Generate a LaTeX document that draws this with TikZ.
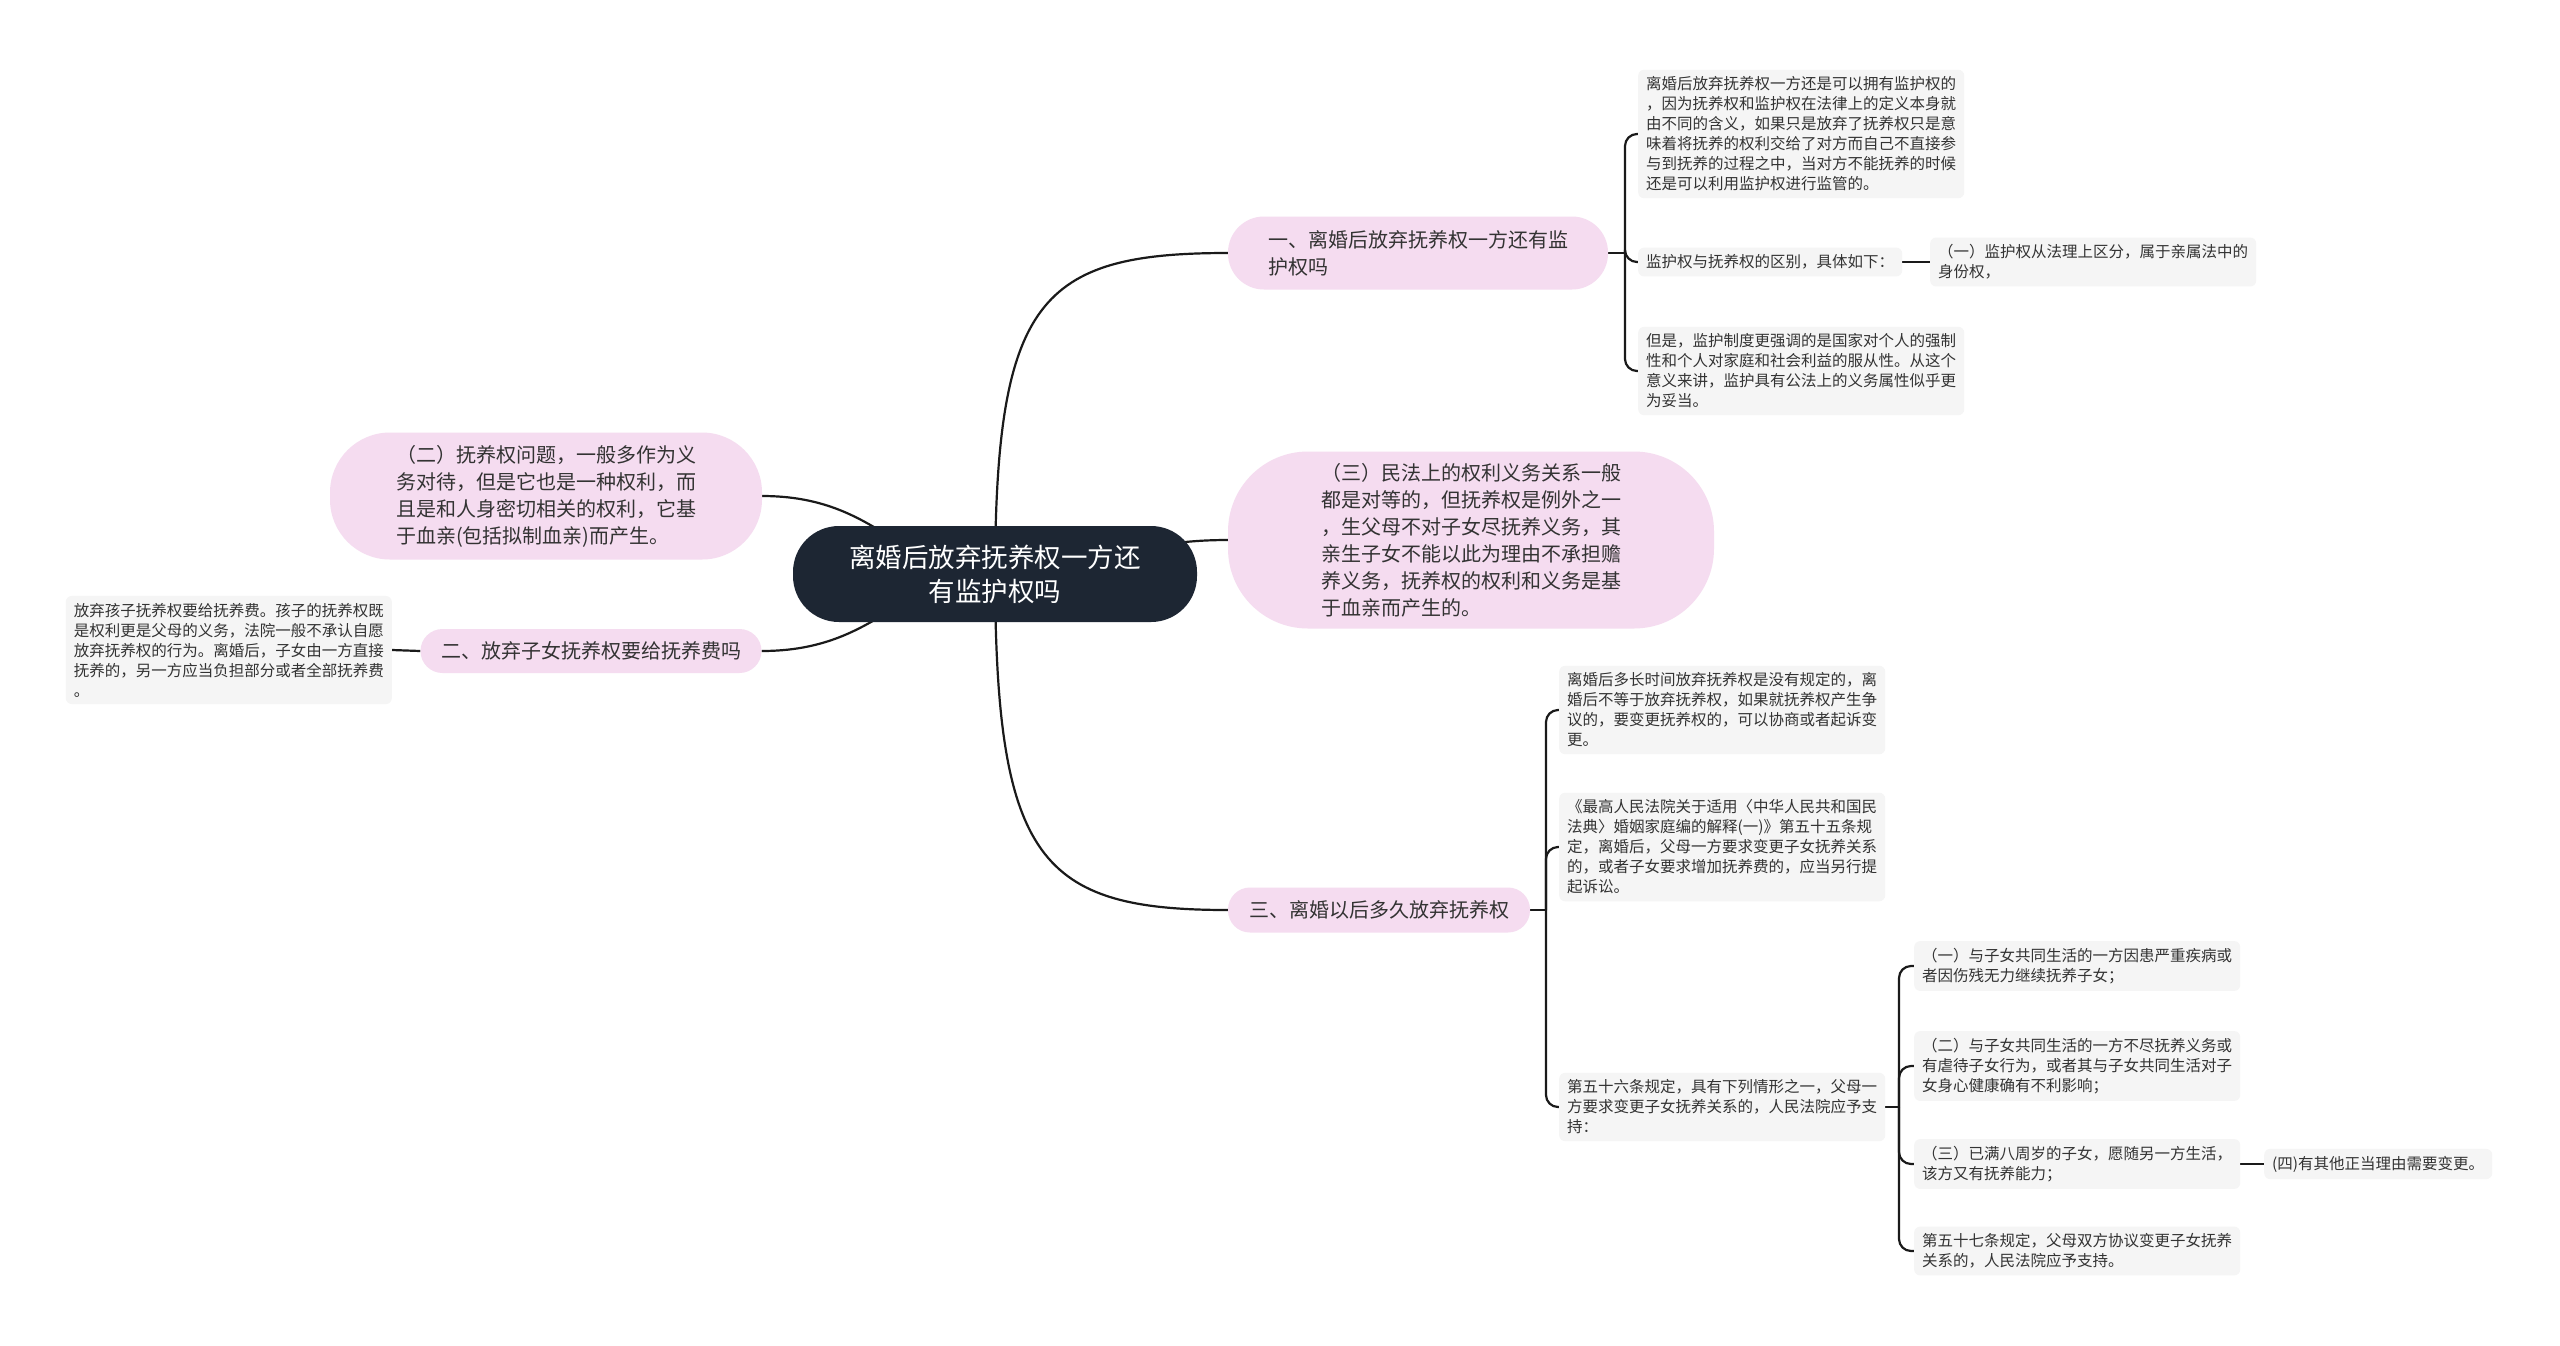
\documentclass[tikz,border=0pt]{standalone}
\usepackage{fontspec}
\setmainfont{Noto Sans CJK SC}
\usetikzlibrary{backgrounds}
\definecolor{rootfill}{HTML}{1D2633}
\definecolor{topicfill}{HTML}{F5DCF0}
\definecolor{leaffill}{HTML}{F5F5F5}
\definecolor{inkgrey}{HTML}{333333}
\definecolor{linkcol}{HTML}{1A1A1A}
\begin{document}
\begin{tikzpicture}[x=1pt, y=-1pt,
  rootnode/.style={fill=rootfill, text=white, align=center,
    font=\fontsize{26.5}{34}\selectfont, minimum width=404pt,
    minimum height=96pt, rounded corners=46pt},
  topic/.style={fill=topicfill, text=inkgrey, align=left,
    font=\fontsize{20}{27}\selectfont},
  leaf/.style={fill=leaffill, text=inkgrey, align=left,
    font=\fontsize{15.5}{20}\selectfont, rounded corners=6pt,
    inner xsep=8pt, inner ysep=7pt, anchor=west},
  link/.style={draw=linkcol, line width=2.2pt},
  branch/.style={link, rounded corners=12pt}]
\useasboundingbox (0, 0) rectangle (2560, 1345);

% centre
\node[rootnode] (root) at (995, 574) {离婚后放弃抚养权一方还\\有监护权吗};

% first level
\node[topic, minimum width=380pt, minimum height=73pt, rounded corners=36pt]
  (A) at (1418, 253) {一、离婚后放弃抚养权一方还有监\\护权吗};
\node[topic, minimum width=486pt, minimum height=177pt, rounded corners=80pt]
  (B) at (1471, 540) {（三）民法上的权利义务关系一般\\都是对等的，但抚养权是例外之一\\，生父母不对子女尽抚养义务，其\\亲生子女不能以此为理由不承担赡\\养义务，抚养权的权利和义务是基\\于血亲而产生的。};
\node[topic, minimum width=302pt, minimum height=45pt, rounded corners=22pt]
  (C) at (1379, 910) {三、离婚以后多久放弃抚养权};
\node[topic, minimum width=432pt, minimum height=127pt, rounded corners=60pt]
  (D) at (546, 496) {（二）抚养权问题，一般多作为义\\务对待，但是它也是一种权利，而\\且是和人身密切相关的权利，它基\\于血亲(包括拟制血亲)而产生。};
\node[topic, minimum width=341pt, minimum height=44pt, rounded corners=22pt]
  (E) at (591, 651) {二、放弃子女抚养权要给抚养费吗};

% leaves
\node[leaf] (A1) at (1638, 134) {离婚后放弃抚养权一方还是可以拥有监护权的\\，因为抚养权和监护权在法律上的定义本身就\\由不同的含义，如果只是放弃了抚养权只是意\\味着将抚养的权利交给了对方而自己不直接参\\与到抚养的过程之中，当对方不能抚养的时候\\还是可以利用监护权进行监管的。};
\node[leaf] (A2) at (1638, 262) {监护权与抚养权的区别，具体如下：};
\node[leaf] (A2a) at (1930, 262) {（一）监护权从法理上区分，属于亲属法中的\\身份权，};
\node[leaf] (A3) at (1638, 371) {但是，监护制度更强调的是国家对个人的强制\\性和个人对家庭和社会利益的服从性。从这个\\意义来讲，监护具有公法上的义务属性似乎更\\为妥当。};
\node[leaf, anchor=east] (E1) at (392, 650) {放弃孩子抚养权要给抚养费。孩子的抚养权既\\是权利更是父母的义务，法院一般不承认自愿\\放弃抚养权的行为。离婚后，子女由一方直接\\抚养的，另一方应当负担部分或者全部抚养费\\。};
\node[leaf] (C1) at (1559, 710) {离婚后多长时间放弃抚养权是没有规定的，离\\婚后不等于放弃抚养权，如果就抚养权产生争\\议的，要变更抚养权的，可以协商或者起诉变\\更。};
\node[leaf] (C2) at (1559, 847) {《最高人民法院关于适用〈中华人民共和国民\\法典〉婚姻家庭编的解释(一)》第五十五条规\\定，离婚后，父母一方要求变更子女抚养关系\\的，或者子女要求增加抚养费的，应当另行提\\起诉讼。};
\node[leaf] (C3) at (1559, 1107) {第五十六条规定，具有下列情形之一，父母一\\方要求变更子女抚养关系的，人民法院应予支\\持：};
\node[leaf] (C3a) at (1914, 966) {（一）与子女共同生活的一方因患严重疾病或\\者因伤残无力继续抚养子女；};
\node[leaf] (C3b) at (1914, 1066) {（二）与子女共同生活的一方不尽抚养义务或\\有虐待子女行为，或者其与子女共同生活对子\\女身心健康确有不利影响；};
\node[leaf] (C3c) at (1914, 1164) {（三）已满八周岁的子女，愿随另一方生活，\\该方又有抚养能力；};
\node[leaf] (C3c1) at (2264, 1164) {(四)有其他正当理由需要变更。};
\node[leaf] (C3d) at (1914, 1251) {第五十七条规定，父母双方协议变更子女抚养\\关系的，人民法院应予支持。};

\coordinate (aj) at (1625, 253);
\coordinate (cj) at (1546, 910);
\coordinate (c3j) at (1899, 1107);

\begin{scope}[on background layer]
  \fill[white] (0, 0) rectangle (2560, 1345);
  % main curves
  \draw[link] (root.center) .. controls (996, 300) and (1040, 253) .. (A.west);
  \draw[link] (root.center) .. controls (1100, 574) and (1120, 540) .. (B.west);
  \draw[link] (root.center) .. controls (996, 860) and (1040, 910) .. (C.west);
  \draw[link] (D.east) .. controls (880, 496) and (900, 574) .. (root.center);
  \draw[link] (E.east) .. controls (880, 651) and (900, 574) .. (root.center);
  % brackets
  \draw[link] (A.east) -- (aj);
  \draw[branch] (aj) |- (A1.west);
  \draw[branch] (aj) |- (A2.west);
  \draw[branch] (aj) |- (A3.west);
  \draw[link] (A2.east) -- (A2a.west);
  \draw[link] (E.west) -- (E1.east);
  \draw[link] (C.east) -- (cj);
  \draw[branch] (cj) |- (C1.west);
  \draw[branch] (cj) |- (C2.west);
  \draw[branch] (cj) |- (C3.west);
  \draw[link] (C3.east) -- (c3j);
  \draw[branch] (c3j) |- (C3a.west);
  \draw[branch] (c3j) |- (C3b.west);
  \draw[branch] (c3j) |- (C3c.west);
  \draw[branch] (c3j) |- (C3d.west);
  \draw[link] (C3c.east) -- (C3c1.west);
\end{scope}
\end{tikzpicture}
\end{document}
